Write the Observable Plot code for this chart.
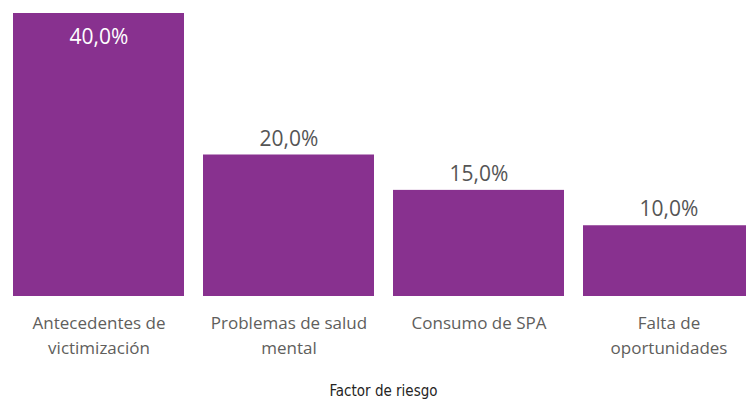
<!DOCTYPE html>
<html><head><meta charset="utf-8">
<script src="https://cdn.jsdelivr.net/npm/d3@7"></script>
<script src="https://cdn.jsdelivr.net/npm/@observablehq/plot@0.6"></script>
<style>
html,body{margin:0;padding:0;background:#fff;overflow:hidden;width:746px;height:400px}
#chart{position:absolute;left:0;top:0}
#chart svg{max-width:none !important}
</style></head>
<body><div id="chart"></div>
<script>
const categories = ["Antecedentes de victimización", "Problemas de salud mental", "Consumo de SPA", "Falta de oportunidades"];
const tickLabels = ["Antecedentes de\nvictimización", "Problemas de salud\nmental", "Consumo de SPA", "Falta de\noportunidades"];
const values = [40, 20, 15, 10];
const axisTitle = "Factor de riesgo";

const data = categories.map((c, i) => ({cat: c, label: tickLabels[i], value: values[i]}));
const fmt = v => v.toFixed(1).replace(".", ",") + "%";
const purple = "#88318F";

const chart = Plot.plot({
  width: 760, height: 400,
  marginLeft: 12, marginRight: 6, marginTop: 13, marginBottom: 104,
  style: {fontFamily: "'Open Sans', sans-serif", background: "white", maxWidth: "none"},
  x: {domain: categories, paddingInner: 0.1, paddingOuter: 0, axis: null},
  y: {domain: [0, 40], axis: null},
  marks: [
    Plot.barY(data, {x: "cat", y: "value", fill: purple}),
    Plot.text(data.filter(d => d.value >= 40), {x: "cat", y: "value", text: d => fmt(d.value), dy: 24, fill: "white", fontSize: 21}),
    Plot.text(data.filter(d => d.value < 40), {x: "cat", y: "value", text: d => fmt(d.value), dy: -16, fill: "#555555", fontSize: 21}),
    Plot.text(data, {x: "cat", y: 0, text: "label", lineAnchor: "top", dy: 15, lineHeight: 1.47, fill: "#605E5C", fontSize: 17}),
    Plot.text([axisTitle], {frameAnchor: "bottom", text: d => d, dy: 99, fill: "#252423", fontSize: 15, fontWeight: 500, fontFamily: "'DejaVu Sans Condensed', sans-serif"})
  ]
});
document.getElementById("chart").appendChild(chart);
</script></body></html>
